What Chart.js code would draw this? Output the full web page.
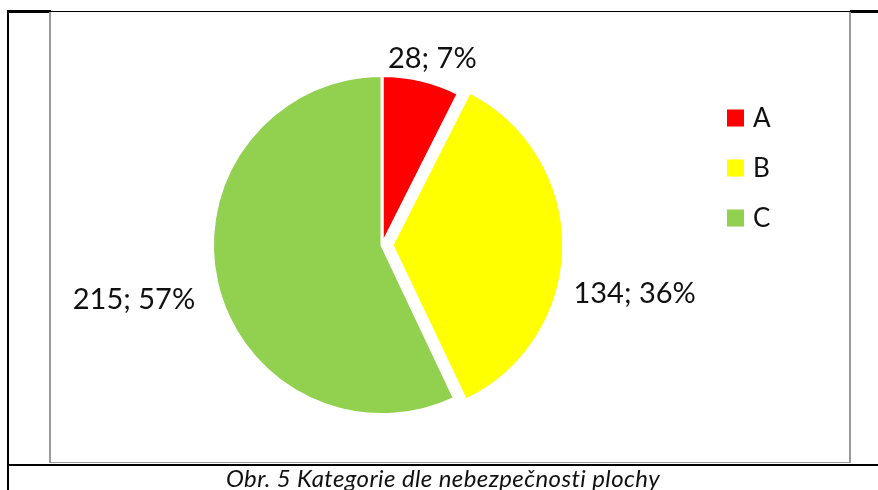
<!DOCTYPE html>
<html>
<head>
<meta charset="utf-8">
<script src="https://cdn.jsdelivr.net/npm/chart.js@4.4.1/dist/chart.umd.min.js"></script>
<style>
  html, body { margin: 0; padding: 0; background: #fff; }
  body { width: 878px; height: 490px; position: relative; overflow: hidden; font-family: Lato, "Noto Sans", sans-serif; }
  #wrap { position: absolute; left: 0; top: 0; width: 878px; height: 490px; }
  .ln { position: absolute; }
  .caption { position: absolute; left: 8px; right: 0; top: 463px; text-align: center; font-style: italic; font-size: 24px; letter-spacing: 0.4px; color: #111; }
</style>
</head>
<body>
<div id="wrap"><canvas id="chart" width="878" height="490"></canvas></div>

<!-- rámeček -->
<div class="ln" style="left:7px;top:11px;width:871px;height:1px;background:#000"></div>
<div class="ln" style="left:7px;top:10px;width:44px;height:3px;background:#000"></div>
<div class="ln" style="left:850px;top:10px;width:28px;height:3px;background:#000"></div>
<div class="ln" style="left:7px;top:11px;width:2px;height:479px;background:#000"></div>
<div class="ln" style="left:49px;top:12px;width:2px;height:451px;background:#9a9a9a"></div>
<div class="ln" style="left:849px;top:12px;width:2px;height:451px;background:#9a9a9a"></div>
<div class="ln" style="left:49px;top:462px;width:802px;height:1px;background:#9a9a9a"></div>
<div class="ln" style="left:7px;top:464px;width:871px;height:2px;background:#000"></div>
<div class="caption">Obr. 5 Kategorie dle nebezpečnosti plochy</div>

<script>
// data
const categories = ['A', 'B', 'C'];
const counts = [28, 134, 215];
const percents = ['7%', '36%', '57%'];
const sliceColors = ['#ff0000', '#ffff00', '#92d050'];

// popisky dat mimo výseč
const outsideLabels = {
  id: 'outsideLabels',
  afterDatasetsDraw(chart, args, opts) {
    const ctx = chart.ctx;
    const arcs = chart.getDatasetMeta(0).data;
    ctx.save();
    ctx.font = opts.font;
    ctx.fillStyle = '#111';
    ctx.textBaseline = 'middle';
    arcs.forEach((arc, i) => {
      const mid = (arc.startAngle + arc.endAngle) / 2;
      const r = arc.outerRadius + opts.distance;
      const x = arc.x + Math.cos(mid) * r + (opts.shiftX[i] || 0);
      const y = arc.y + Math.sin(mid) * r + (opts.shiftY[i] || 0);
      const c = Math.cos(mid);
      ctx.textAlign = c > 0.4 ? 'left' : c < -0.4 ? 'right' : 'center';
      ctx.fillText(`${counts[i]}; ${percents[i]}`, x, y);
    });
    ctx.restore();
  }
};

// legenda vpravo
const sideLegend = {
  id: 'sideLegend',
  afterDraw(chart, args, opts) {
    const ctx = chart.ctx;
    const ds = chart.data.datasets[0];
    ctx.save();
    ctx.font = opts.font;
    ctx.textBaseline = 'middle';
    ctx.textAlign = 'left';
    chart.data.labels.forEach((lab, i) => {
      const y = opts.y + i * opts.step;
      ctx.fillStyle = ds.backgroundColor[i];
      ctx.fillRect(opts.x, y - opts.box / 2, opts.box, opts.box);
      ctx.fillStyle = '#111';
      ctx.fillText(lab, opts.x + opts.box + 9, y + 1);
    });
    ctx.restore();
  }
};

// v4 kreslí offset výseče jako offset/4
new Chart(document.getElementById('chart'), {
  type: 'pie',
  data: {
    labels: categories,
    datasets: [{
      data: counts,
      backgroundColor: sliceColors,
      borderColor: '#ffffff',
      borderWidth: 3,
      offset: [0, 40, 0]
    }]
  },
  options: {
    responsive: false,
    animation: false,
    layout: { padding: { left: 191, right: 305, top: 54, bottom: 54 } },
    plugins: {
      legend: { display: false },
      tooltip: { enabled: false },
      outsideLabels: { font: '29px Lato', distance: 22, shiftX: [6, 0, 0], shiftY: [0, 46, 13] },
      sideLegend: { font: '26px Lato', x: 727, y: 118, step: 50, box: 17 }
    }
  },
  plugins: [outsideLabels, sideLegend]
});
</script>
</body>
</html>
